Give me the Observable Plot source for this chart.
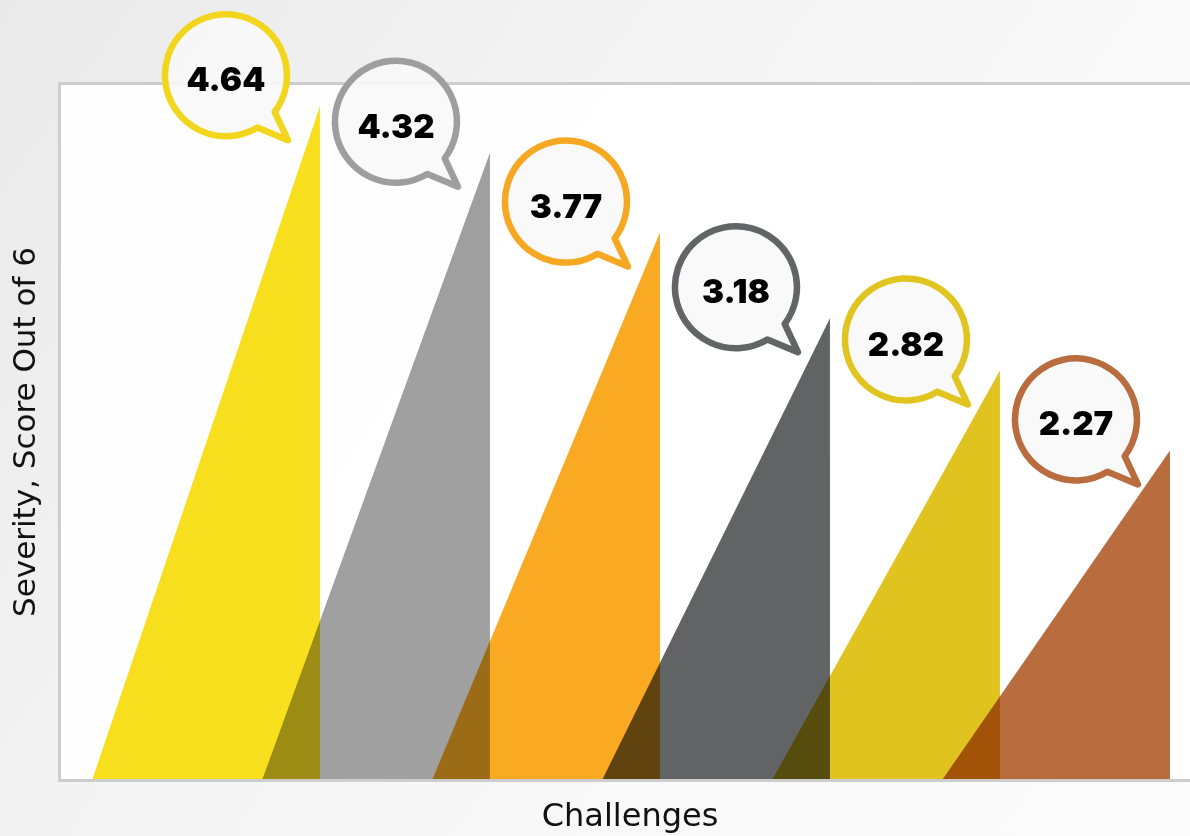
<!DOCTYPE html>
<html><head><meta charset="utf-8">
<script src="https://cdn.jsdelivr.net/npm/d3@7"></script>
<script src="https://cdn.jsdelivr.net/npm/@observablehq/plot@0.6"></script>
<style>
html,body{margin:0;padding:0;overflow:hidden;width:1190px;height:836px;}
body{background: linear-gradient(125deg,#e9e9e9 0%,#f3f3f3 35%,#f8f8f8 60%,#fbfbfb 100%);}
#chart svg{display:block;max-width:none !important;}
</style></head><body><div id="chart"></div>
<script>
// Data
const challengeIndex = [0, 1, 2, 3, 4, 5];
const severity = [4.64, 4.32, 3.77, 3.18, 2.82, 2.27];
const fillColors = ["#F9E01E", "#A0A0A0", "#F9AA22", "#626365", "#E0C31F", "#B96C3E"];
const bubbleColors = ["#F2D61E", "#9E9E9E", "#F7A823", "#636466", "#E0C41F", "#B96C3E"];
const yTitle = "Severity, Score Out of 6";
const xTitle = "Challenges";

const BASE = 1.34; // triangle base width in slot units

const tri = challengeIndex.flatMap((i) => [
  {i, x: i - BASE, y: 0, c: fillColors[i]},
  {i, x: i, y: severity[i], c: fillColors[i]}
]);
const bubbleData = challengeIndex.map((i) => ({i, v: severity[i], c: bubbleColors[i], t: severity[i].toFixed(2)}));

function bubbles(index, scales) {
  const g = d3.create("svg:g");
  const R = 61, dx = -94, dy = -31;
  const a1 = 59 * Math.PI / 180, a2 = 37 * Math.PI / 180;
  for (const d of bubbleData) {
    const px = scales.x(d.i), py = scales.y(d.v);
    const cx = px + dx, cy = py + dy;
    const p = `M${cx + R * Math.cos(a1)},${cy + R * Math.sin(a1)} A${R},${R} 0 1 1 ${cx + R * Math.cos(a2)},${cy + R * Math.sin(a2)} L${cx + 62},${cy + 65} Z`;
    g.append("path").attr("d", p).attr("fill", "#f8f8f8").attr("fill-opacity", 0.9)
      .attr("stroke", d.c).attr("stroke-width", 6.5).attr("stroke-linejoin", "round");
    g.append("text").attr("x", cx).attr("y", cy + 4)
      .attr("text-anchor", "middle").attr("dominant-baseline", "central")
      .attr("font-family", "Inter, 'DejaVu Sans', sans-serif").attr("font-weight", 900)
      .attr("font-size", 33).attr("fill", "#000").text(d.t);
  }
  return g.node();
}

const W = 1196, H = 836;
const chart = Plot.plot({
  width: W, height: H,
  marginLeft: 59, marginTop: 83, marginBottom: 56, marginRight: 0,
  x: {domain: [-1.535, -1.535 + (W - 59) / 170], axis: null},
  y: {domain: [0, 4.8], axis: null},
  color: {type: "identity"},
  style: {background: "transparent", overflow: "visible", maxWidth: "none", fontFamily: "'DejaVu Sans', sans-serif"},
  marks: [
    Plot.frame({fill: "white", fillOpacity: 0.92}),
    Plot.areaY(tri, {x: "x", y: "y", z: "i", fill: "c", curve: "linear", mixBlendMode: "multiply"}),
    Plot.frame({stroke: "#cdcdcd", strokeWidth: 3}),
    bubbles,
    Plot.text([yTitle], {text: d => d, frameAnchor: "left", textAnchor: "middle", dx: -34, rotate: -90, fontSize: 31, fill: "#111"}),
    Plot.text([xTitle], {text: d => d, frameAnchor: "bottom", dx: 2, dy: 45, fontSize: 32, fill: "#111"})
  ]
});
document.getElementById("chart").appendChild(chart);
</script>
</body></html>
